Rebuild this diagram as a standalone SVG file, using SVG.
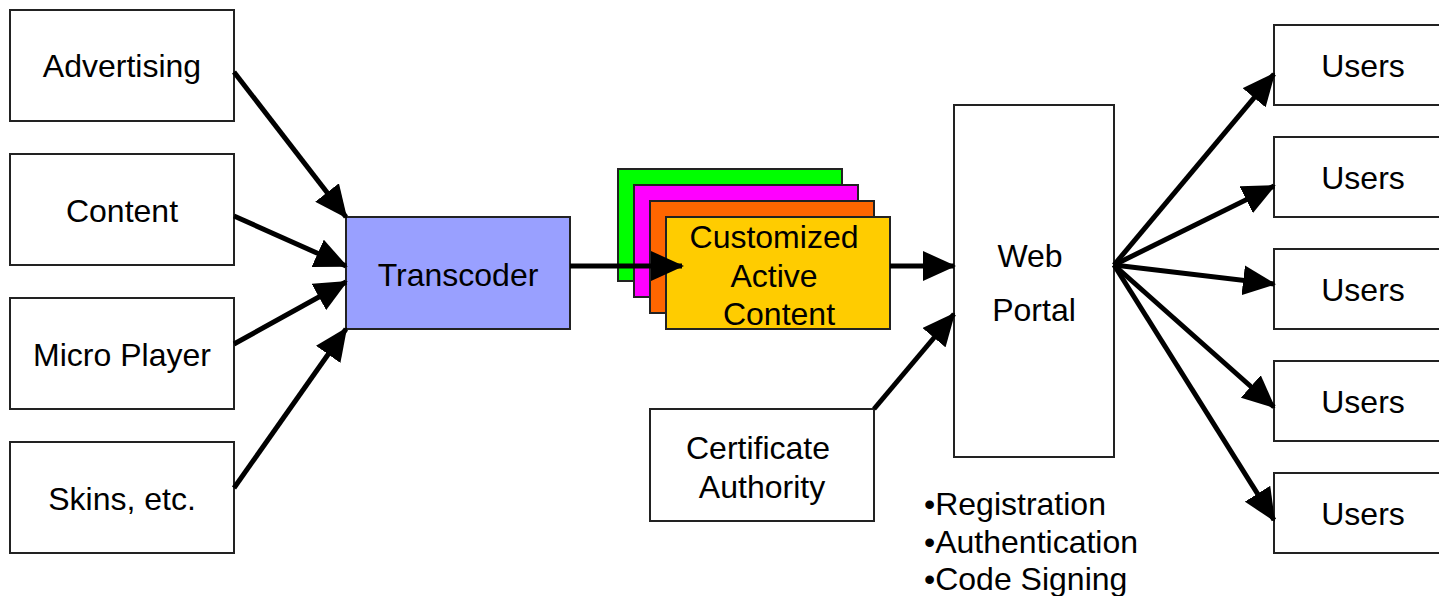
<svg xmlns="http://www.w3.org/2000/svg" width="1439" height="596" viewBox="0 0 1439 596">
  <style>
    .box { fill: #ffffff; stroke: #222222; stroke-width: 2; }
    .lbl { font-family: "Liberation Sans", Arial, sans-serif; font-size: 32px; fill: #000000; text-anchor: middle; }
    .note { font-family: "Liberation Sans", Arial, sans-serif; font-size: 32px; fill: #000000; }
    .wire { stroke: #000000; stroke-width: 5; fill: none; marker-end: url(#head); }
  </style>
  <defs>
    <marker id="head" markerUnits="userSpaceOnUse" markerWidth="33" markerHeight="30" viewBox="0 0 33 30" refX="31" refY="15" orient="auto">
      <path d="M0,0 L33,15 L0,30 Z" fill="#000000"/>
    </marker>
  </defs>
  <rect width="1439" height="596" fill="#ffffff"/>

  <!-- source nodes -->
  <g id="advertising"><rect class="box" x="10" y="10" width="224" height="111"/><text class="lbl" x="122" y="77">Advertising</text></g>
  <g id="content"><rect class="box" x="10" y="154" width="224" height="111"/><text class="lbl" x="122" y="222">Content</text></g>
  <g id="micro-player"><rect class="box" x="10" y="298" width="224" height="111"/><text class="lbl" x="122" y="366">Micro Player</text></g>
  <g id="skins"><rect class="box" x="10" y="442" width="224" height="111"/><text class="lbl" x="122" y="510">Skins, etc.</text></g>

  <g id="transcoder"><rect class="box" x="346" y="217" width="224" height="112" style="fill:#99A0FF"/><text class="lbl" x="458" y="286">Transcoder</text></g>

  <!-- stacked content cards -->
  <g id="active-content">
    <rect class="box" x="618" y="169" width="224" height="112" style="fill:#00FF00"/>
    <rect class="box" x="634" y="185" width="224" height="112" style="fill:#FF00FF"/>
    <rect class="box" x="650" y="201" width="224" height="112" style="fill:#FF6600"/>
    <rect class="box" x="666" y="217" width="224" height="112" style="fill:#FFCC00"/>
    <text class="lbl" x="774" y="248">Customized</text>
    <text class="lbl" x="774" y="287">Active</text>
    <text class="lbl" x="779" y="325">Content</text>
  </g>

  <g id="cert-authority"><rect class="box" x="650" y="409" width="224" height="112"/><text class="lbl" x="758" y="459">Certificate</text><text class="lbl" x="762" y="498">Authority</text></g>

  <g id="web-portal">
    <rect class="box" x="954" y="105" width="160" height="352"/>
    <text class="lbl" x="1030" y="267">Web</text>
    <text class="lbl" x="1034" y="321">Portal</text>
  </g>

  <g id="portal-features">
    <text class="note" x="924" y="515">•Registration</text>
    <text class="note" x="924" y="553">•Authentication</text>
    <text class="note" x="924" y="590">•Code Signing</text>
  </g>

  <!-- user nodes -->
  <g id="users-1"><rect class="box" x="1274" y="25" width="180" height="80"/><text class="lbl" x="1363" y="77">Users</text></g>
  <g id="users-2"><rect class="box" x="1274" y="137" width="180" height="80"/><text class="lbl" x="1363" y="189">Users</text></g>
  <g id="users-3"><rect class="box" x="1274" y="249" width="180" height="80"/><text class="lbl" x="1363" y="301">Users</text></g>
  <g id="users-4"><rect class="box" x="1274" y="361" width="180" height="80"/><text class="lbl" x="1363" y="413">Users</text></g>
  <g id="users-5"><rect class="box" x="1274" y="473" width="180" height="80"/><text class="lbl" x="1363" y="525">Users</text></g>

  <!-- connectors -->
  <g id="connectors">
    <line class="wire" x1="234" y1="72" x2="346" y2="217"/>
    <line class="wire" x1="234" y1="216" x2="346" y2="266"/>
    <line class="wire" x1="234" y1="344" x2="346" y2="282"/>
    <line class="wire" x1="234" y1="488" x2="346" y2="329"/>
    <line class="wire" x1="570" y1="266" x2="682" y2="266"/>
    <line class="wire" x1="890" y1="266" x2="954" y2="266"/>
    <line class="wire" x1="874" y1="409" x2="954" y2="314"/>
    <line class="wire" x1="1114" y1="265" x2="1274" y2="74"/>
    <line class="wire" x1="1114" y1="265" x2="1274" y2="186"/>
    <line class="wire" x1="1114" y1="265" x2="1274" y2="284"/>
    <line class="wire" x1="1114" y1="265" x2="1274" y2="407"/>
    <line class="wire" x1="1114" y1="265" x2="1274" y2="520"/>
  </g>
</svg>
